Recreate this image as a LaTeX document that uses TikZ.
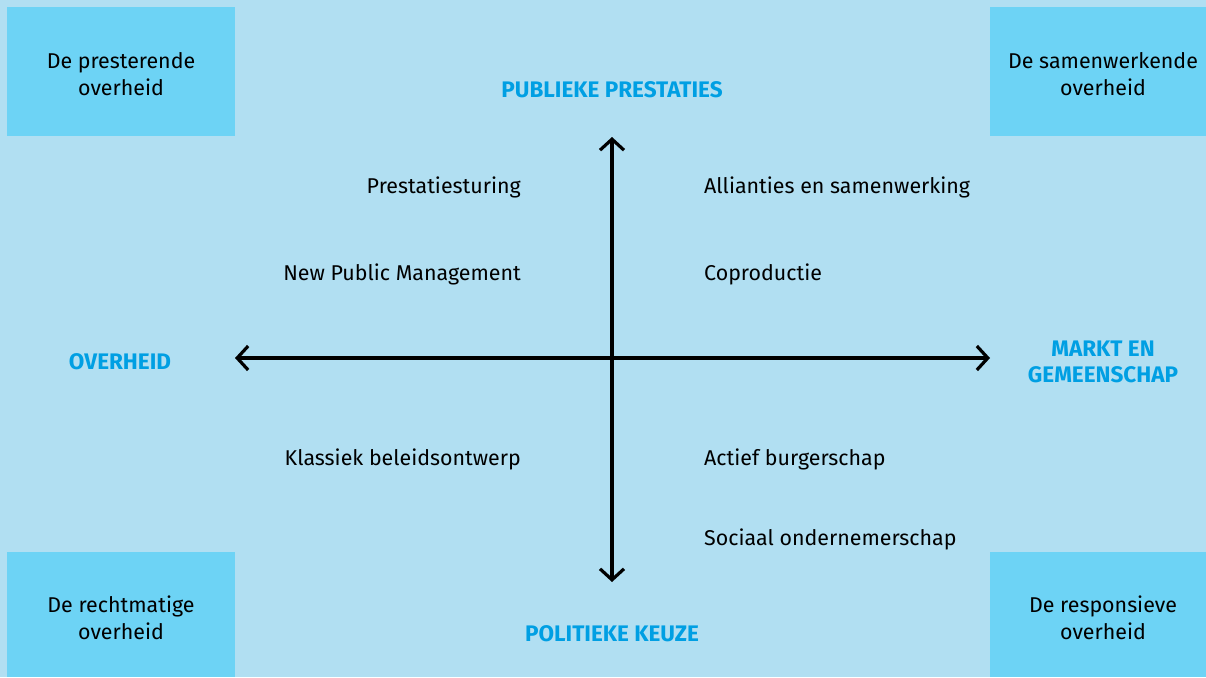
\documentclass[tikz,border=0pt]{standalone}
\usepackage{fontspec}
\setmainfont{Fira Sans}
\usetikzlibrary{arrows.meta}
\definecolor{bg}{HTML}{B1DFF2}
\definecolor{boxc}{HTML}{6DD3F5}
\definecolor{lab}{HTML}{009FE3}
\tikzset{
  corner/.style={fill=boxc, draw=none},
  boxtext/.style={align=center, font=\fontsize{21.4}{27}\selectfont, text=black, inner sep=0pt},
  axislab/.style={align=center, font=\fontsize{22.5}{26}\selectfont\bfseries, text=lab, inner sep=0pt},
  ltext/.style={anchor=east, font=\fontsize{21.4}{24}\selectfont, inner sep=0pt},
  rtext/.style={anchor=west, font=\fontsize{21.4}{24}\selectfont, inner sep=0pt},
  axis/.style={line width=3.8pt, {Straight Barb[length=11pt,width=24pt,line width=3.2pt]}-{Straight Barb[length=11pt,width=24pt,line width=3.2pt]}}
}
\begin{document}
\begin{tikzpicture}[x=1pt,y=-1pt]
\fill[bg] (0,0) rectangle (1206,677);
\useasboundingbox (0,0) rectangle (1206,677);
\fill[corner] (7,7) rectangle (235,136);
\fill[corner] (990,7) rectangle (1206,136);
\fill[corner] (7,552) rectangle (235,677);
\fill[corner] (990,552) rectangle (1206,677);
\node[boxtext] (tl) at (121,74) {De presterende\\overheid};
\node[boxtext] (tr) at (1103,74) {De samenwerkende\\overheid};
\node[boxtext] (bl) at (121,618) {De rechtmatige\\overheid};
\node[boxtext] (br) at (1103,618) {De responsieve\\overheid};
\node[axislab] (top) at (612,90) {PUBLIEKE PRESTATIES};
\node[axislab] (bot) at (612,634) {POLITIEKE KEUZE};
\node[axislab] (lft) at (120,362) {OVERHEID};
\node[axislab] (rgt) at (1103,362) {MARKT EN\\GEMEENSCHAP};
\coordinate (n) at (612,137);
\coordinate (s) at (612,582);
\coordinate (w) at (235,358);
\coordinate (e) at (990,358);
\draw[axis] (s) -- (n);
\draw[axis] (w) -- (e);
\node[ltext] (l1) at (521,187) {Prestatiesturing};
\node[ltext] (l2) at (521,274) {New Public Management};
\node[ltext] (l3) at (521,459) {Klassiek beleidsontwerp};
\node[rtext] (r1) at (704,187) {Allianties en samenwerking};
\node[rtext] (r2) at (704,274) {Coproductie};
\node[rtext] (r3) at (704,459) {Actief burgerschap};
\node[rtext] (r4) at (704,539) {Sociaal ondernemerschap};
\end{tikzpicture}
\end{document}
